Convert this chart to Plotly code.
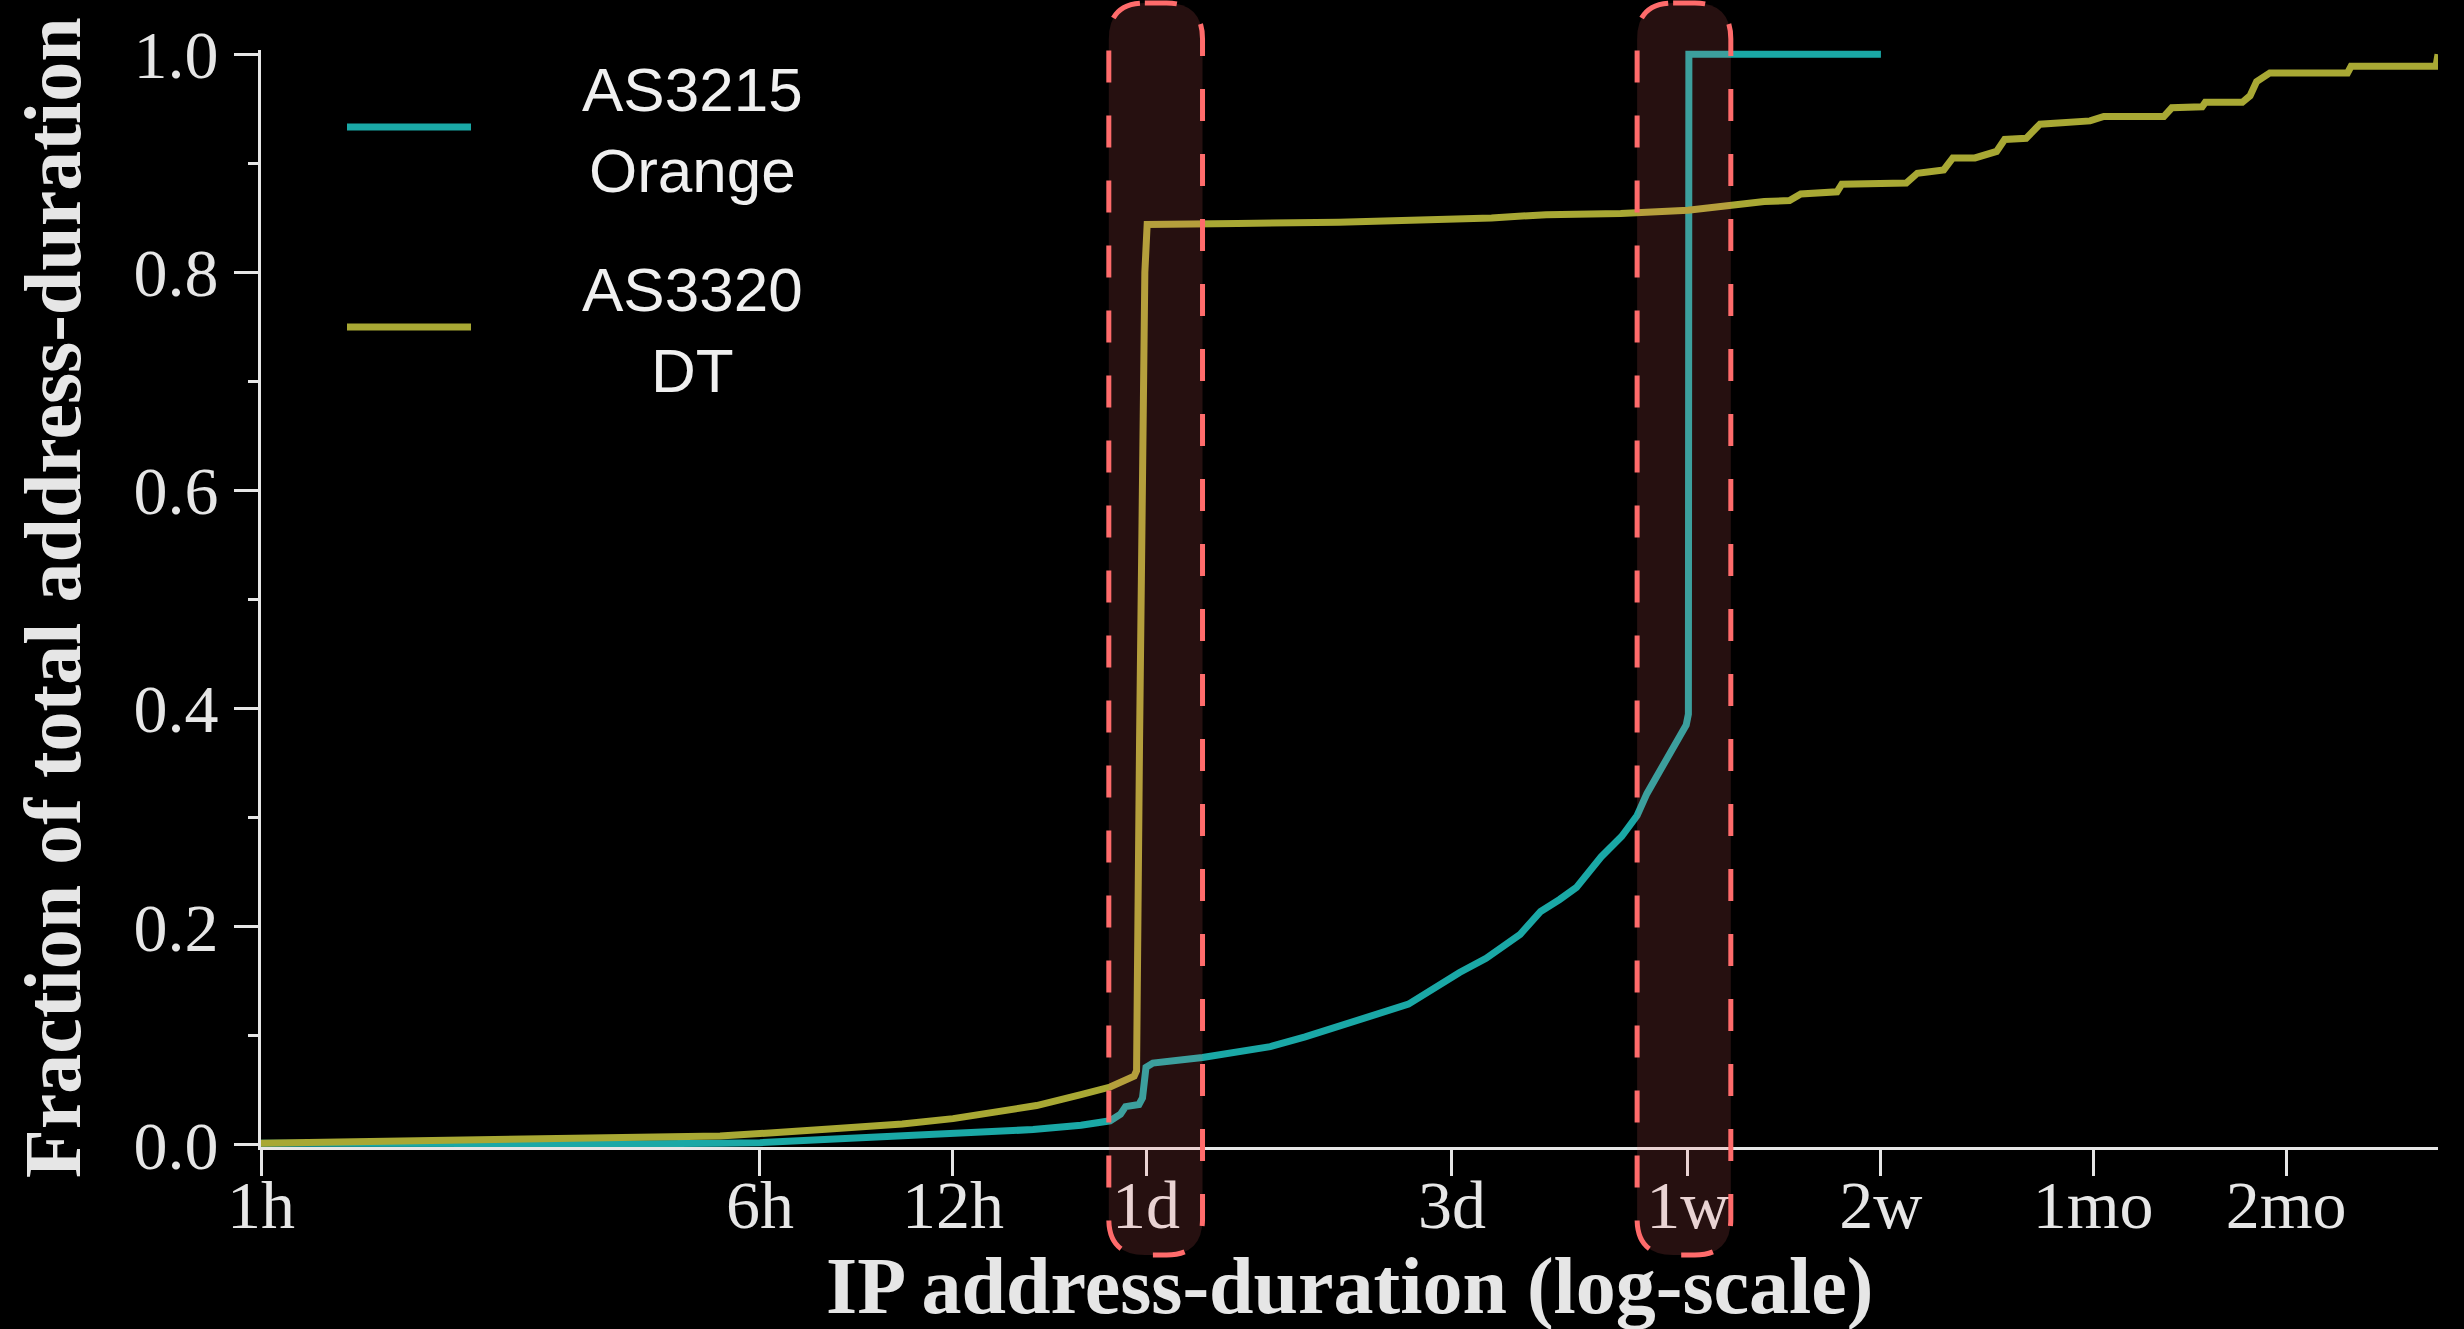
import math
import plotly.graph_objects as go

# ---------------- data (durations in hours, cumulative fraction) ----------------
orange_hours = [1, 2.3, 4, 5.2, 6, 7.7, 10, 12, 16, 19, 21.1, 21.9, 22.3, 23.4, 23.7, 24.0, 24.6,
                29.4, 37.5, 42.5, 51, 61.6, 74, 81.4, 92, 99, 106, 112.6, 123, 132.5, 140,
                145, 153, 162, 167, 168.3, 168.6, 336]
orange_frac = [0.0015, 0.0005, 0.001, 0.0015, 0.002, 0.005, 0.008, 0.010, 0.014, 0.018, 0.022,
               0.028, 0.035, 0.037, 0.043, 0.071, 0.075,
               0.080, 0.090, 0.099, 0.114, 0.129, 0.158, 0.171, 0.193, 0.214, 0.225, 0.236,
               0.264, 0.283, 0.302, 0.322, 0.346, 0.371, 0.385, 0.395, 1.0, 1.0]

dt_hours = [1, 2.3, 3.5, 5.2, 7.7, 10, 12, 16.2, 19, 21.1, 23.0, 23.2, 23.45, 23.9, 24.1,
            29.4, 33.3, 48, 64, 83, 101, 132, 168, 183, 196, 210, 221, 242, 252, 287, 292,
            368, 383, 421, 435, 471, 509, 524, 566, 595, 712, 748, 928, 955, 1065, 1077,
            1230, 1265, 1295, 1358, 1795, 1818, 2466, 2484]
dt_frac = [0.0015, 0.0045, 0.006, 0.008, 0.0145, 0.019, 0.024, 0.036, 0.046, 0.053, 0.063,
           0.068, 0.37, 0.80, 0.844,
           0.844, 0.845, 0.846, 0.848, 0.850, 0.853, 0.854, 0.857, 0.860, 0.862, 0.864,
           0.865, 0.866, 0.872, 0.874, 0.881, 0.882, 0.891, 0.894, 0.905, 0.905, 0.911,
           0.922, 0.923, 0.936, 0.939, 0.943, 0.943, 0.951, 0.952, 0.956, 0.956, 0.962,
           0.975, 0.983, 0.983, 0.989, 0.989, 1.0]

series_names = ["AS3215<br>Orange", "AS3320<br>DT"]
series_colors = ["#1aa8a6", "#a8a834"]

x_tick_vals = [1, 6, 12, 24, 72, 168, 336, 720, 1440]
x_tick_text = ["1h", "6h", "12h", "1d", "3d", "1w", "2w", "1mo", "2mo"]
y_tick_vals = [0.0, 0.2, 0.4, 0.6, 0.8, 1.0]
y_tick_text = ["0.0", "0.2", "0.4", "0.6", "0.8", "1.0"]
y_minor_vals = [0.1, 0.3, 0.5, 0.7, 0.9]

highlight_ranges = [(21.0, 29.4), (140, 196)]   # hours around 1d and 1w

x_max_hours = 2484
y_range = [-0.002, 1.004]

# ---------------- layout geometry ----------------
W, H = 2464, 1329
ML, MR, MT, MB = 261, 26, 50, 182
PW, PH = W - ML - MR, H - MT - MB
TXT = "#e6e6e6"


def pxx(p):
    return (p - ML) / PW


def pxy(p):
    return (H - MB - p) / PH


def hx(h):
    return math.log10(h) / math.log10(x_max_hours)


fig = go.Figure()
for hrs, frac, name, col in [(orange_hours, orange_frac, series_names[0], series_colors[0]),
                             (dt_hours, dt_frac, series_names[1], series_colors[1])]:
    fig.add_trace(go.Scatter(x=hrs, y=frac, mode="lines", name=name.replace("<br>", " "),
                             line=dict(color=col, width=7), showlegend=False))

shapes = []
# highlight boxes (rounded, dashed)
r = 36
for (h0, h1) in highlight_ranges:
    x0, x1 = hx(h0), hx(h1)
    y0, y1 = pxy(1255), pxy(3)
    rx, ry = r / PW, r / PH
    path = (f"M {x0+rx},{y1} L {x1-rx},{y1} Q {x1},{y1} {x1},{y1-ry} "
            f"L {x1},{y0+ry} Q {x1},{y0} {x1-rx},{y0} L {x0+rx},{y0} "
            f"Q {x0},{y0} {x0},{y0+ry} L {x0},{y1-ry} Q {x0},{y1} {x0+rx},{y1} Z")
    shapes.append(dict(type="path", path=path, xref="paper", yref="paper", layer="above",
                       fillcolor="rgba(255,110,110,0.15)",
                       line=dict(color="#ff6b6b", width=5, dash="32px,33px")))

# manual legend
annotations = []
for i, (name, col) in enumerate(zip(series_names, series_colors)):
    ly = 127 + 200 * i
    shapes.append(dict(type="line", xref="paper", yref="paper", x0=pxx(347), x1=pxx(471),
                       y0=pxy(ly), y1=pxy(ly), line=dict(color=col, width=7), layer="above"))
    annotations.append(dict(text=name, x=pxx(692), y=pxy(ly + 3), xref="paper", yref="paper",
                            xanchor="center", yanchor="middle", align="center", showarrow=False,
                            font=dict(family="Liberation Sans", size=62, color="#f0f0f0")))

annotations.append(dict(text="Fraction of total address-duration", textangle=-90,
                        x=pxx(53), y=pxy(598), xref="paper", yref="paper",
                        xanchor="center", yanchor="middle", showarrow=False,
                        font=dict(family="Liberation Serif", size=80, color=TXT, weight="bold")))
annotations.append(dict(text="IP address-duration (log-scale)",
                        x=pxx(1349), y=pxy(1286), xref="paper", yref="paper",
                        xanchor="center", yanchor="middle", showarrow=False,
                        font=dict(family="Liberation Serif", size=80, color=TXT, weight="bold")))

fig.update_layout(
    width=W, height=H,
    margin=dict(l=ML, r=MR, t=MT, b=MB, pad=0),
    paper_bgcolor="black", plot_bgcolor="black",
    shapes=shapes, annotations=annotations, showlegend=False,
    xaxis=dict(type="log", range=[0, math.log10(x_max_hours)],
               tickvals=x_tick_vals, ticktext=x_tick_text,
               ticks="outside", ticklen=26, tickwidth=3, tickcolor=TXT,
               ticklabelstandoff=-30,
               showline=True, linewidth=3, linecolor=TXT, showgrid=False, zeroline=False,
               tickfont=dict(family="Liberation Serif", size=68, color=TXT)),
    yaxis=dict(range=y_range, tickvals=y_tick_vals, ticktext=y_tick_text,
               ticks="outside", ticklen=24, tickwidth=3, tickcolor=TXT,
               ticklabelstandoff=2,
               minor=dict(tickvals=y_minor_vals, ticks="outside", ticklen=10, tickwidth=3,
                          tickcolor=TXT, showgrid=False),
               showline=True, linewidth=3, linecolor=TXT, showgrid=False, zeroline=False,
               tickfont=dict(family="Liberation Serif", size=68, color=TXT)),
)

fig.write_html("out.html", config={"displayModeBar": False},
               post_script="document.body.style.margin='0';document.body.style.background='black';")
